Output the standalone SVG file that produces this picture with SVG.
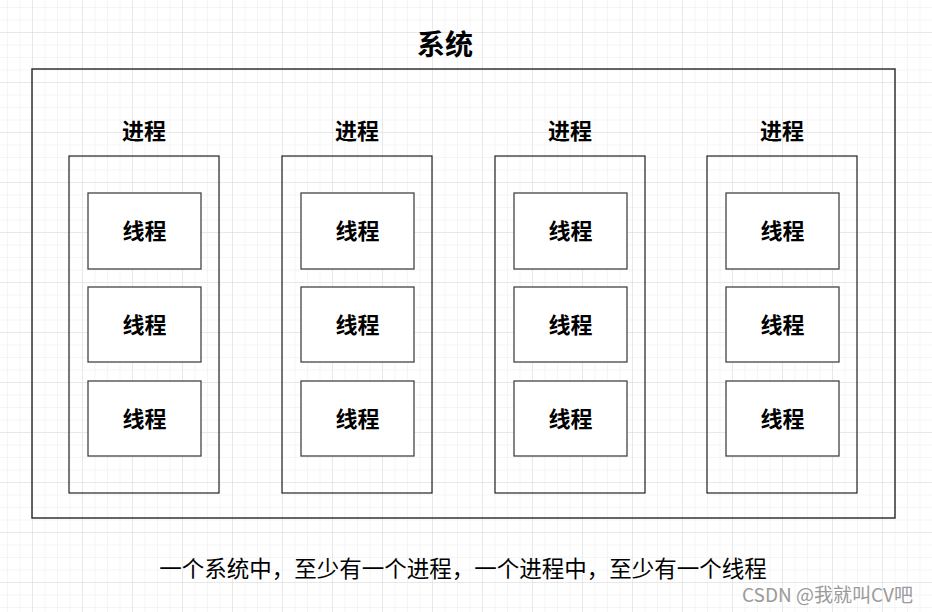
<svg xmlns="http://www.w3.org/2000/svg" width="932" height="612" viewBox="0 0 932 612">
<defs>
<pattern id="minor" x="7" y="7" width="12.5" height="12.5" patternUnits="userSpaceOnUse">
<path d="M12.5 0 L0 0 0 12.5" fill="none" stroke="#ececec" stroke-width="1"/>
</pattern>
<pattern id="major" x="32" y="32" width="50" height="50" patternUnits="userSpaceOnUse">
<path d="M50 0 L0 0 0 50" fill="none" stroke="#dcdcdc" stroke-width="1"/>
</pattern>
</defs>
<style>
text{font-family:"Noto Sans CJK SC","Noto Sans",sans-serif;fill:#000}
.b{font-weight:bold;text-anchor:middle;dominant-baseline:central}
.proc{fill:none;stroke:#222;stroke-width:1.2}
.thr{fill:#fff;stroke:#444;stroke-width:1.3}
.t{font-size:22px}
</style>
<rect width="932" height="612" fill="#fff"/>
<rect width="932" height="612" fill="url(#minor)"/>
<rect width="932" height="612" fill="url(#major)"/>
<g id="system">
<rect x="32" y="69" width="863" height="449" fill="none" stroke="#333" stroke-width="1.5"/>
<text class="b" x="445" y="42.5" font-size="28">系统</text>
</g>
<g id="process1">
<rect class="proc" x="69" y="156" width="150" height="337"/>
<text class="b t" x="144" y="128.5">进程</text>
<g id="thread1-1"><rect class="thr" x="88" y="193" width="113" height="76"/><text class="b t" x="144.5" y="229">线程</text></g>
<g id="thread1-2"><rect class="thr" x="88" y="287" width="113" height="75"/><text class="b t" x="144.5" y="322.5">线程</text></g>
<g id="thread1-3"><rect class="thr" x="88" y="381" width="113" height="75"/><text class="b t" x="144.5" y="416.5">线程</text></g>
</g>
<g id="process2">
<rect class="proc" x="282" y="156" width="150" height="337"/>
<text class="b t" x="357" y="128.5">进程</text>
<g id="thread2-1"><rect class="thr" x="301" y="193" width="113" height="76"/><text class="b t" x="357.5" y="229">线程</text></g>
<g id="thread2-2"><rect class="thr" x="301" y="287" width="113" height="75"/><text class="b t" x="357.5" y="322.5">线程</text></g>
<g id="thread2-3"><rect class="thr" x="301" y="381" width="113" height="75"/><text class="b t" x="357.5" y="416.5">线程</text></g>
</g>
<g id="process3">
<rect class="proc" x="495" y="156" width="150" height="337"/>
<text class="b t" x="570" y="128.5">进程</text>
<g id="thread3-1"><rect class="thr" x="514" y="193" width="113" height="76"/><text class="b t" x="570.5" y="229">线程</text></g>
<g id="thread3-2"><rect class="thr" x="514" y="287" width="113" height="75"/><text class="b t" x="570.5" y="322.5">线程</text></g>
<g id="thread3-3"><rect class="thr" x="514" y="381" width="113" height="75"/><text class="b t" x="570.5" y="416.5">线程</text></g>
</g>
<g id="process4">
<rect class="proc" x="707" y="156" width="150" height="337"/>
<text class="b t" x="782" y="128.5">进程</text>
<g id="thread4-1"><rect class="thr" x="726" y="193" width="113" height="76"/><text class="b t" x="782.5" y="229">线程</text></g>
<g id="thread4-2"><rect class="thr" x="726" y="287" width="113" height="75"/><text class="b t" x="782.5" y="322.5">线程</text></g>
<g id="thread4-3"><rect class="thr" x="726" y="381" width="113" height="75"/><text class="b t" x="782.5" y="416.5">线程</text></g>
</g>
<g id="connectors"/>
<text x="463" y="567" font-size="22.5" text-anchor="middle" dominant-baseline="central">一个系统中，至少有一个进程，一个进程中，至少有一个线程</text>
<text x="742" y="593" font-size="19" style="fill:#9a9a9a" dominant-baseline="central">CSDN @我就叫CV吧</text>
</svg>
